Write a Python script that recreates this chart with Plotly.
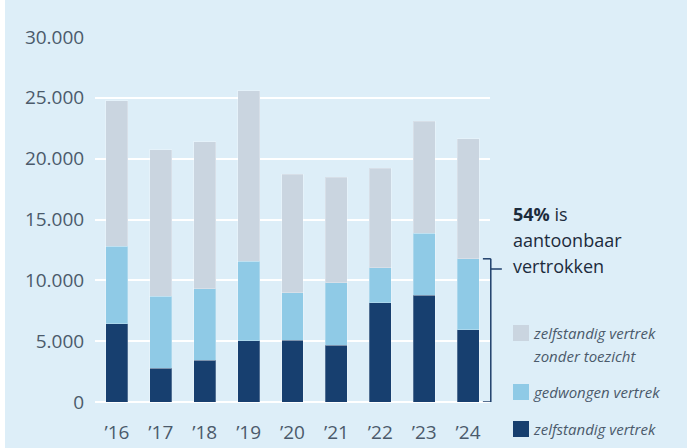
import plotly.graph_objects as go

# データ
years = ["’16", "’17", "’18", "’19", "’20", "’21", "’22", "’23", "’24"]
zelfstandig = [6420, 2770, 3430, 5020, 5080, 4670, 8150, 8760, 5930]
gedwongen = [6400, 5930, 5870, 6560, 3890, 5130, 2880, 5130, 5840]
zonder_toezicht = [11960, 12050, 12080, 14000, 9750, 8670, 8180, 9190, 9880]

series_names = ["zelfstandig vertrek", "gedwongen vertrek",
                "zelfstandig vertrek<br>zonder toezicht"]
series_colors = ["#173f6f", "#8fcae6", "#cad5e0"]
y_ticks = [0, 5000, 10000, 15000, 20000, 25000, 30000]
y_tick_text = ["0", "5.000", "10.000", "15.000", "20.000", "25.000", "30.000"]

bg = "#ddeef8"
text_col = "#4b5a6b"

# チャート作成
fig = go.Figure()
for vals, name, col in zip([zelfstandig, gedwongen, zonder_toezicht],
                           series_names, series_colors):
    fig.add_trace(go.Bar(x=years, y=vals, name=name,
                         marker={'color': col,
                                 'line': {'color': 'rgba(255,255,255,0.25)', 'width': 1}},
                         showlegend=False))

# レイアウト
fig.update_layout(
    width=687, height=448,
    margin={'l': 95, 'r': 197, 't': 37, 'b': 46},
    barmode='stack', bargap=0.5,
    paper_bgcolor=bg, plot_bgcolor=bg,
    font={'family': 'Open Sans', 'color': text_col, 'size': 18},
    xaxis={'showgrid': False, 'zeroline': False, 'showline': False, 'automargin': False,
           'ticks': 'outside', 'ticklen': 13, 'tickcolor': 'rgba(0,0,0,0)',
           'tickfont': {'size': 19, 'color': text_col}},
    yaxis={'range': [0, 30000], 'tickvals': y_ticks, 'ticktext': y_tick_text,
           'automargin': False,
           'showgrid': True, 'gridcolor': 'white', 'gridwidth': 2,
           'zeroline': True, 'zerolinecolor': 'white', 'zerolinewidth': 2,
           'ticks': 'outside', 'ticklen': 6, 'tickcolor': 'rgba(0,0,0,0)',
           'tickfont': {'size': 19, 'color': text_col}},
)

# 左端の白い帯
fig.add_shape(type='rect', xref='paper', yref='paper', x0=-0.3, x1=(5 - 95) / 395,
              y0=-0.2, y1=1.2, fillcolor='white', line_width=0, layer='below')

# ブラケット（2024年の gedwongen + zelfstandig）
top_24 = zelfstandig[-1] + gedwongen[-1]
bc = "#1f3f6b"
fig.add_shape(type='line', xref='paper', yref='y', x0=1.002, x1=1.002, y0=0, y1=top_24,
              line={'color': bc, 'width': 1.5})
fig.add_shape(type='line', xref='paper', yref='y', x0=0.982, x1=1.002, y0=top_24, y1=top_24,
              line={'color': bc, 'width': 1.5})
fig.add_shape(type='line', xref='paper', yref='y', x0=0.982, x1=1.002, y0=0, y1=0,
              line={'color': bc, 'width': 1.5})
fig.add_shape(type='line', xref='paper', yref='paper', x0=1.002, x1=1.03,
              y0=(402 - 269) / 365, y1=(402 - 269) / 365,
              line={'color': bc, 'width': 1.5})

# 注記
def px_x(px):
    return (px - 95) / 395


def px_y(py):
    return (402 - py) / 365


note_lines = ["<b>54%</b> is", "aantoonbaar", "vertrokken"]
for i, t in enumerate(note_lines):
    fig.add_annotation(text=t, xref='paper', yref='paper', x=px_x(511), y=px_y(214 + 26 * i),
                       xanchor='left', yanchor='middle', showarrow=False,
                       font={'size': 18, 'color': '#1c2b3c'})

# 凡例（手動）
legend_rows = [(2, 325, [333, 356]), (1, 384, [392]), (0, 421, [429])]
for idx, sy, ty in legend_rows:
    fig.add_shape(type='rect', xref='paper', yref='paper',
                  x0=px_x(513), x1=px_x(529), y0=px_y(sy), y1=px_y(sy + 16),
                  fillcolor=series_colors[idx], line_width=0)
    for j, part in enumerate(series_names[idx].split('<br>')):
        fig.add_annotation(text='<i>' + part + '</i>', xref='paper', yref='paper',
                           x=px_x(531), y=px_y(ty[j]), xanchor='left', yanchor='middle',
                           showarrow=False, font={'size': 15, 'color': text_col})

# 出力（body の余白を消す）
fig.write_html("out.html", config={'displayModeBar': False},
               post_script="document.body.style.margin='0';")
